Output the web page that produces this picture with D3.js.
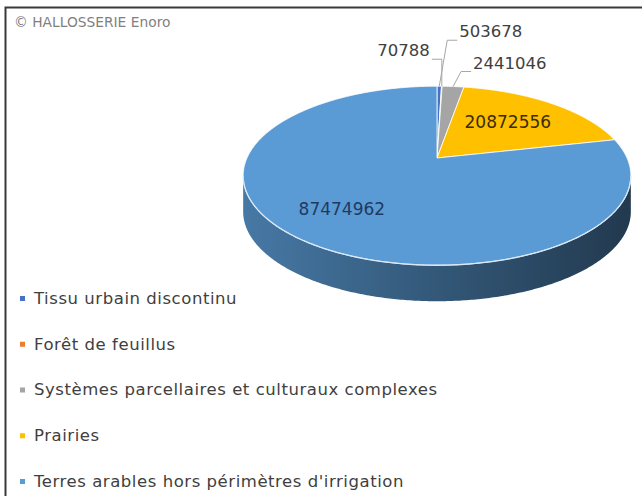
<!DOCTYPE html>
<html>
<head>
<meta charset="utf-8">
<script src="https://cdn.jsdelivr.net/npm/d3@7"></script>
<style>
  body { margin: 0; background: #fff; }
  text { font-family: 'DejaVu Sans', sans-serif; }
</style>
</head>
<body>
<div id="chart"></div>
<script>
const categories = [
  'Tissu urbain discontinu',
  'Forêt de feuillus',
  'Systèmes parcellaires et culturaux complexes',
  'Prairies',
  "Terres arables hors périmètres d'irrigation"
]
const values = [503678, 70788, 2441046, 20872556, 87474962]
const colors = ['#4472c4', '#ed7d31', '#a5a5a5', '#ffc000', '#5b9bd5']
const credit = '© HALLOSSERIE Enoro'

const width = 642
const height = 496

// pie geometry (perspective ellipse)
const cx = 437
const cy = 158
const A = 190
const B = 86
const k = 0.198
const depth = 36

const svg = d3
  .select('#chart')
  .append('svg')
  .attr('width', width)
  .attr('height', height)

const colorScale = d3.scaleOrdinal(categories, colors)

// frame
svg
  .append('path')
  .attr('d', `M5.5,${height + 2}V7.5H${width + 2}`)
  .attr('fill', 'none')
  .attr('stroke', '#3a3a3a')
  .attr('stroke-width', 2)

svg
  .append('text')
  .attr('x', 14)
  .attr('y', 27)
  .attr('font-size', 13.8)
  .attr('fill', '#7f7f7f')
  .text(credit)

const data = categories.map((c, i) => ({ name: c, value: values[i] }))
const arcs = d3.pie().sort(null).value(d => d.value)(data)

const proj = (a, r, h) => {
  const u = Math.sin(a) * r
  const v = -Math.cos(a) * r
  const w = 1 - k * v
  return [cx + (A * u) / w, cy + (B * v) / w + h * depth]
}

const rim = (a0, a1, h) => {
  const n = Math.max(2, Math.ceil((a1 - a0) / 0.01))
  return d3.range(n + 1).map(i => proj(a0 + ((a1 - a0) * i) / n, 1, h))
}

const line = d3.line()

// side gradients
const defs = svg.append('defs')
arcs.forEach((d, i) => {
  const c = colorScale(d.data.name)
  const g = defs
    .append('linearGradient')
    .attr('id', 'side' + i)
    .attr('gradientUnits', 'userSpaceOnUse')
    .attr('x1', cx - A - 6)
    .attr('x2', cx + A + 6)
    .attr('y1', 0)
    .attr('y2', 0)
  g.append('stop').attr('offset', '0%').attr('stop-color', d3.color(c).darker(0.7))
  g.append('stop').attr('offset', '50%').attr('stop-color', d3.color(c).darker(1.6))
  g.append('stop').attr('offset', '100%').attr('stop-color', d3.color(c).darker(2.8))
})

// visible side range: tangent points of the projected rim
const aR = Math.acos(-k)
const aL = 2 * Math.PI - aR

arcs.forEach((d, i) => {
  const a0 = Math.max(d.startAngle, aR)
  const a1 = Math.min(d.endAngle, aL)
  if (a1 <= a0) return
  const pts = rim(a0, a1, 0).concat(rim(a0, a1, 1).reverse())
  svg
    .append('path')
    .attr('d', line(pts) + 'Z')
    .attr('fill', `url(#side${i})`)
})

// top face
svg
  .selectAll('.slice')
  .data(arcs)
  .enter()
  .append('path')
  .attr('class', 'slice')
  .attr('d', d => line([proj(0, 0, 0)].concat(rim(d.startAngle, d.endAngle, 0))) + 'Z')
  .attr('fill', d => colorScale(d.data.name))
  .attr('stroke', '#fff')
  .attr('stroke-width', 0.8)
  .attr('stroke-linejoin', 'round')

// light rim highlight along the front edge
svg
  .append('path')
  .attr('d', line(rim(aR, aL, 0)))
  .attr('fill', 'none')
  .attr('stroke', '#d9e8f6')
  .attr('stroke-width', 1.3)

// inner labels for the two big slices
const fmt = d3.format('d')
const inner = arcs.filter(d => d.endAngle - d.startAngle > 0.5)
svg
  .selectAll('.inner-label')
  .data(inner)
  .enter()
  .append('text')
  .attr('class', 'inner-label')
  .attr('x', d => proj((d.startAngle + d.endAngle) / 2, 0.66, 0)[0] - 8)
  .attr('y', d => proj((d.startAngle + d.endAngle) / 2, 0.66, 0)[1] + 2)
  .attr('text-anchor', 'middle')
  .attr('dy', '0.35em')
  .attr('font-size', 17)
  .attr('fill', d => (d.data.name === 'Prairies' ? '#3b2c00' : '#1f3a60'))
  .text(d => fmt(d.data.value))

// callouts for the thin slices: [elbow dx, elbow dy, side]
const callout = {
  'Tissu urbain discontinu': [8, -46, 1],
  'Forêt de feuillus': [0, -27, -1],
  'Systèmes parcellaires et culturaux complexes': [8, -15, 1]
}
const outer = arcs.filter(d => callout[d.data.name])

outer.forEach(d => {
  const [dx, dy, side] = callout[d.data.name]
  const p = proj((d.startAngle + d.endAngle) / 2, 1, 0)
  const elbow = [p[0] + dx, p[1] + dy]
  const end = [elbow[0] + side * 10, elbow[1]]
  svg
    .append('path')
    .attr('d', line([p, elbow, end]))
    .attr('fill', 'none')
    .attr('stroke', '#a6a6a6')
    .attr('stroke-width', 1)
  svg
    .append('text')
    .attr('x', end[0] + side * 2)
    .attr('y', end[1] - 3)
    .attr('text-anchor', side > 0 ? 'start' : 'end')
    .attr('font-size', 16.5)
    .attr('fill', '#404040')
    .text(fmt(d.data.value))
})

// legend
const legendY = d3
  .scalePoint()
  .domain(categories)
  .range([298, 481])

const legend = svg
  .selectAll('.legend')
  .data(categories)
  .enter()
  .append('g')
  .attr('class', 'legend')
  .attr('transform', d => `translate(0,${legendY(d)})`)

legend
  .append('rect')
  .attr('x', 20)
  .attr('y', -2)
  .attr('width', 5)
  .attr('height', 5)
  .attr('fill', d => colorScale(d))

legend
  .append('text')
  .attr('x', 34)
  .attr('y', 0)
  .attr('dy', '0.35em')
  .attr('font-size', 16.5)
  .attr('letter-spacing', 0.55)
  .attr('fill', '#404040')
  .text(d => d)
</script>
</body>
</html>
